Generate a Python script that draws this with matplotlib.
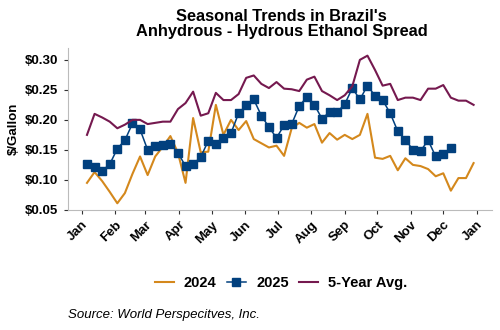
import matplotlib
matplotlib.use("Agg")
import matplotlib.pyplot as plt
import matplotlib.dates as mdates
import pandas as pd
import numpy as np

plt.rcParams['font.family'] = ['Liberation Sans', 'DejaVu Sans']

y2024 = [0.095, 0.113, 0.098, 0.080, 0.061, 0.078, 0.110, 0.139, 0.108, 0.139,
         0.155, 0.173, 0.145, 0.095, 0.203, 0.146, 0.147, 0.225, 0.175, 0.200,
         0.183, 0.198, 0.168, 0.161, 0.154, 0.157, 0.140, 0.186, 0.195, 0.187,
         0.193, 0.162, 0.178, 0.167, 0.175, 0.168, 0.175, 0.210, 0.137, 0.135,
         0.140, 0.116, 0.136, 0.125, 0.123, 0.118, 0.106, 0.111, 0.082, 0.103,
         0.103, 0.128]

y2025 = [0.127, 0.121, 0.115, 0.126, 0.152, 0.166, 0.194, 0.184, 0.150, 0.156,
         0.158, 0.160, 0.145, 0.123, 0.126, 0.138, 0.165, 0.159, 0.170, 0.178,
         0.211, 0.224, 0.234, 0.207, 0.188, 0.170, 0.191, 0.193, 0.223, 0.238,
         0.225, 0.202, 0.213, 0.213, 0.226, 0.253, 0.234, 0.257, 0.240, 0.233,
         0.211, 0.181, 0.167, 0.150, 0.148, 0.166, 0.139, 0.143, 0.153]

avg5 = [0.175, 0.210, 0.204, 0.197, 0.186, 0.192, 0.200, 0.200, 0.193, 0.195,
        0.197, 0.197, 0.218, 0.228, 0.247, 0.207, 0.211, 0.245, 0.233, 0.233,
        0.243, 0.270, 0.274, 0.260, 0.253, 0.263, 0.252, 0.251, 0.248, 0.267,
        0.272, 0.248, 0.241, 0.233, 0.241, 0.256, 0.300, 0.307, 0.283, 0.257,
        0.260, 0.233, 0.237, 0.237, 0.233, 0.252, 0.252, 0.258, 0.237, 0.232,
        0.232, 0.225]

weeks = pd.date_range("2025-01-06", periods=52, freq="7D")
month_labels = ["Jan", "Feb", "Mar", "Apr", "May", "Jun", "Jul", "Aug",
                "Sep", "Oct", "Nov", "Dec", "Jan"]
month_ticks = pd.date_range("2025-01-01", periods=13, freq="MS")

c2024 = "#D4881C"
c2025 = "#01407E"
cavg = "#75194F"

fig = plt.figure(figsize=(5, 3.3), dpi=100)
ax = fig.add_axes([0.135, 0.364, 0.849, 0.491])

ax.plot(weeks[:len(y2024)], y2024, color=c2024, lw=1.5, label="2024")
ax.plot(weeks[:len(y2025)], y2025, color=c2025, lw=1.1, marker="s",
        markersize=5.8, label="2025")
ax.plot(weeks[:len(avg5)], avg5, color=cavg, lw=1.5, label="5-Year Avg.")

ax.set_ylim(0.05, 0.32)
ax.set_yticks([0.05, 0.10, 0.15, 0.20, 0.25, 0.30])
ax.set_yticklabels(["$%.2f" % v for v in [0.05, 0.10, 0.15, 0.20, 0.25, 0.30]])
ax.set_xlim(pd.Timestamp("2024-12-19"), pd.Timestamp("2026-01-15"))
ax.set_xticks(month_ticks)
ax.set_xticklabels(month_labels, rotation=45, ha="right", rotation_mode="anchor")

for sp in ["top", "right"]:
    ax.spines[sp].set_visible(False)
for sp in ["left", "bottom"]:
    ax.spines[sp].set_color("#BBBBBB")
ax.tick_params(axis="both", colors="#333333", length=3, labelsize=9.5, labelcolor="black")
for lbl in ax.get_xticklabels() + ax.get_yticklabels():
    lbl.set_fontweight("bold")

ax.set_ylabel("$/Gallon", fontsize=9.5, fontweight="bold", labelpad=4)

fig.text(0.563, 0.927, "Seasonal Trends in Brazil's\nAnhydrous - Hydrous Ethanol Spread",
         ha="center", va="center", fontsize=11.8, fontweight="bold", linespacing=1.05)

fig.legend(loc="center", bbox_to_anchor=(0.562, 0.142), ncol=3, frameon=False,
           prop={"weight": "bold", "size": 10.5}, handlelength=1.3, columnspacing=0.7,
           handletextpad=0.7)

fig.text(0.135, 0.045, "Source: World Perspecitves, Inc.", fontsize=9.5,
         style="italic", ha="left", va="center")

fig.savefig("out.png", dpi=100)
